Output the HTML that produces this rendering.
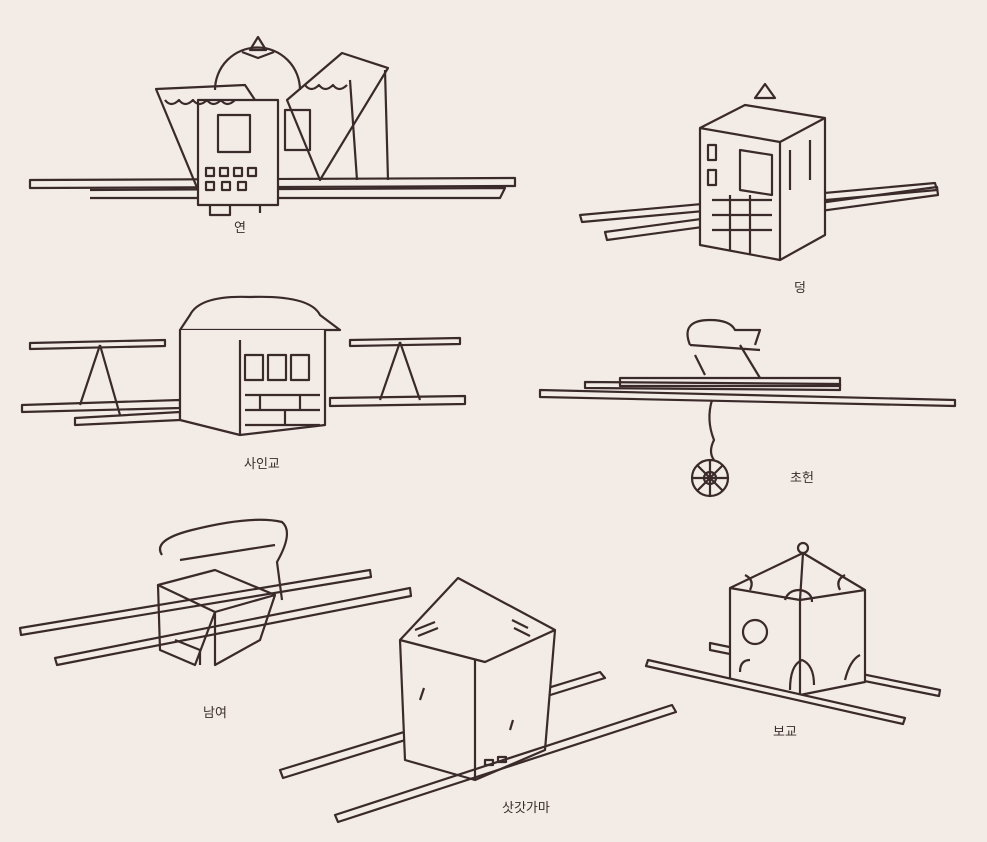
<!DOCTYPE html>
<html><head><meta charset="utf-8"><style>
html,body{margin:0;padding:0;background:#f2ebe6;}
svg{display:block}
text{font-family:"Liberation Sans","Noto Sans CJK KR",sans-serif;font-size:13px;fill:#3a2c2c}
</style></head><body>
<svg width="987" height="842" viewBox="0 0 987 842" xmlns="http://www.w3.org/2000/svg">
<rect width="987" height="842" fill="#f2ebe6"/>
<g fill="none" stroke="#3a2a2a" stroke-width="2.2" stroke-linejoin="round">
<!-- 연 -->
<path d="M30 180 L515 178 L515 186 L30 188 Z"/>
<path d="M90 190 L505 188 L500 198 L90 198"/>
<path d="M215 90 A42 42 0 0 1 300 90"/>
<path d="M250 50 L258 37 L266 50 Z M242 52 L258 58 L274 52"/>
<path d="M156 89 L245 85 L255 100 L198 190 Z"/>
<path d="M287 100 L342 53 L388 68 L320 180 Z"/>
<path d="M198 100 L278 100 L278 205 L198 205 Z" fill="#f2ebe6"/>
<path d="M218 115 L250 115 L250 152 L218 152 Z M285 110 L310 110 L310 150 L285 150 Z"/>
<path d="M206 168 h8 v8 h-8z M220 168 h8 v8 h-8z M234 168 h8 v8 h-8z M248 168 h8 v8 h-8z M206 182 h8 v8 h-8z M222 182 h8 v8 h-8z M238 182 h8 v8 h-8z"/>
<path d="M165 100 q6 8 14 0 q6 8 14 0 q6 8 14 0 q6 8 14 0 q6 8 14 0"/>
<path d="M305 85 q6 8 14 0 q6 8 14 0 q6 8 14 0"/>
<path d="M350 80 L357 180 M385 70 L388 180"/>
<path d="M210 205 v10 h20 v-10 M260 205 v8"/>
<!-- 덩 -->
<path d="M580 215 L935 183 L937 190 L582 222 Z"/>
<path d="M605 232 L937 187 L938 195 L607 240 Z"/>
<path d="M700 128 L700 245 L780 260 L825 235 L825 118 L745 105 Z" fill="#f2ebe6"/>
<path d="M700 128 L780 142 L825 118 M780 142 L780 260"/>
<path d="M755 98 L765 84 L775 98 Z"/>
<path d="M740 150 L772 155 L772 195 L740 190 Z"/>
<path d="M708 145 v15 h8 v-15z M708 170 v15 h8 v-15z M712 200 h60 M712 215 h60 M712 230 h60 M730 195 v55 M750 195 v60"/>
<path d="M790 150 v40 M810 140 v40"/>
<!-- 사인교 -->
<path d="M30 343 L165 340 L165 346 L30 349 Z M350 340 L460 338 L460 344 L350 346 Z"/>
<path d="M22 405 L180 400 L180 408 L22 412 Z M75 418 L180 412 L180 420 L75 425 Z M330 398 L465 396 L465 404 L330 406 Z"/>
<path d="M100 345 L80 405 M100 345 L120 415 M400 342 L380 400 M400 342 L420 400"/>
<path d="M190 315 q10 -20 60 -18 q60 -2 70 18 L340 330 L180 330 Z" fill="#f2ebe6"/>
<path d="M180 330 L180 420 L240 435 L325 425 L325 330" fill="#f2ebe6"/>
<path d="M240 340 L240 435 M245 355 h18 v25 h-18z M268 355 h18 v25 h-18z M291 355 h18 v25 h-18z"/>
<path d="M245 395 h75 M245 410 h75 M245 425 h75 M260 395 v15 M285 410 v15 M300 395 v15"/>
<!-- 초헌 -->
<path d="M540 390 L955 400 L955 406 L540 397 Z M585 382 L840 384 L840 390 L585 388 Z"/>
<path d="M620 378 L840 378 L840 386 L620 386 Z"/>
<path d="M690 345 q-10 -25 20 -25 q20 0 25 10 L760 330 L755 345 M695 355 L705 375 M740 345 L760 378 M690 345 L760 350"/>
<path d="M712 400 q-6 20 2 40 q-6 12 0 20"/>
<circle cx="710" cy="478" r="18"/><circle cx="710" cy="478" r="6"/>
<path d="M710 460 v36 M692 478 h36 M697 465 l26 26 M723 465 l-26 26"/>
<!-- 남여 -->
<path d="M20 628 L370 570 L371 577 L21 635 Z"/>
<path d="M55 658 L410 588 L411 596 L57 665 Z"/>
<path d="M162 555 q-10 -15 30 -25 q60 -15 90 -8 q12 10 -5 40 L282 600 M180 560 L275 545"/>
<path d="M158 585 L215 570 L275 595 L215 612 Z"/>
<path d="M158 585 L160 650 L195 665 L215 612 M215 612 L215 665 L260 640 L275 595"/>
<path d="M175 640 L200 650 M200 650 v15"/>
<!-- 삿갓가마 -->
<path d="M280 770 L600 672 L605 678 L283 778 Z"/>
<path d="M400 640 L458 578 L555 630 L545 750 L475 780 L405 760 Z" fill="#f2ebe6"/>
<path d="M400 640 L485 662 L555 630 M475 660 L475 780"/>
<path d="M335 815 L672 705 L676 712 L338 822 Z"/>
<path d="M415 630 l20 -8 M418 636 l20 -8 M512 620 l16 8 M514 628 l16 8 M420 700 l4 -12 M510 730 l3 -10 M485 760 h8 v5 h-8z M498 757 h8 v5 h-8z"/>
<!-- 보교 -->
<path d="M710 643 L940 690 L939 696 L710 650 Z"/>
<circle cx="803" cy="548" r="5"/>
<path d="M803 553 L730 588 L730 680 L800 695 L865 682 L865 590 Z" fill="#f2ebe6"/>
<path d="M730 588 L800 600 L865 590 M800 600 L800 695 M803 553 L800 600"/>
<path d="M648 660 L905 718 L903 724 L646 666 Z" fill="#f2ebe6"/>
<circle cx="755" cy="632" r="12"/>
<path d="M740 672 q0 -12 10 -12 M790 690 q0 -25 12 -30 q12 5 12 25 M845 680 q5 -20 15 -25 M785 600 q3 -10 15 -10 q12 2 12 12 M745 575 q10 5 5 15 M845 575 q-10 5 -5 15"/>
</g>
<text x="234" y="232">연</text>
<text x="794" y="292">덩</text>
<text x="244" y="468">사인교</text>
<text x="790" y="482">초헌</text>
<text x="203" y="717">남여</text>
<text x="773" y="736">보교</text>
<text x="502" y="812">삿갓가마</text>
</svg>
</body></html>
